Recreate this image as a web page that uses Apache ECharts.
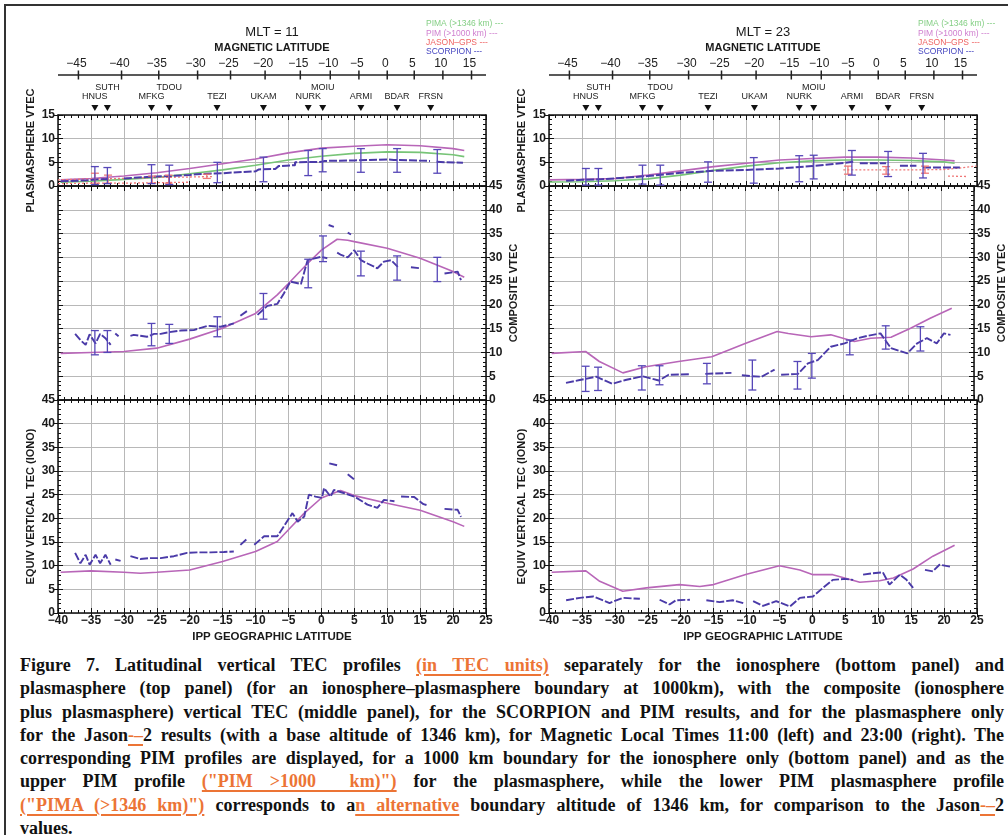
<!DOCTYPE html>
<html>
<head>
<meta charset="utf-8">
<title>Figure 7</title>
<script src="https://cdn.jsdelivr.net/npm/echarts@6/dist/echarts.min.js"></script>
<style>
  html, body { margin: 0; padding: 0; background: #fff; }
  #page { position: relative; width: 1008px; height: 835px; overflow: hidden; }
  #frame { position: absolute; left: 4px; top: 4px; width: 1030px; height: 880px; border: 2px solid #333; }
  #chart { position: absolute; left: 0; top: 0; width: 1008px; height: 650px; }
  #caption {
    position: absolute; left: 20px; top: 654px; width: 984px;
    font: bold 18px/23.3px "Liberation Serif", "Times New Roman", serif;
    color: #111;
  }
  #caption div { text-align: justify; text-align-last: justify; white-space: nowrap; }
  #caption div.last { text-align-last: left; }
  .o { color: #ec7435; text-decoration: underline; text-decoration-thickness: 2px; text-underline-offset: 3px; }
</style>
</head>
<body>
<div id="page">
  <div id="frame"></div>
  <div id="chart"></div>
  <div id="caption">
    <div>Figure 7. Latitudinal vertical TEC profiles <span class="o">(in TEC units)</span> separately for the ionosphere (bottom panel) and</div>
    <div>plasmasphere (top panel) (for an ionosphere–plasmasphere boundary at 1000km), with the composite (ionosphere</div>
    <div>plus plasmasphere) vertical TEC (middle panel), for the SCORPION and PIM results, and for the plasmasphere only</div>
    <div>for the Jason<span class="o">-–</span>2 results (with a base altitude of 1346 km), for Magnetic Local Times 11:00 (left) and 23:00 (right). The</div>
    <div>corresponding PIM profiles are displayed, for a 1000 km boundary for the ionosphere only (bottom panel) and as the</div>
    <div>upper PIM profile <span class="o">("PIM &gt;1000&nbsp; km)")</span> for the plasmasphere, while the lower PIM plasmasphere profile</div>
    <div><span class="o">("PIMA (&gt;1346 km)")</span> corresponds to a<span class="o">n alternative</span> boundary altitude of 1346 km, for comparison to the Jason<span class="o">-–</span>2</div>
    <div class="last">values.</div>
  </div>
</div>
<script>
// top axis: magnetic latitude ticks and where they fall in geographic latitude
const magLatTicks = [-45, -40, -35, -30, -25, -20, -15, -10, -5, 0, 5, 10, 15]
const magLatGeo = [-36.9, -30.35, -24.7, -18.8, -13.8, -8.55, -3.2, 1.35, 5.7, 10.0, 14.1, 18.45, 22.8]

const stationNames = ['HNUS', 'SUTH', 'MFKG', 'TDOU', 'TEZI', 'UKAM', 'NURK', 'MOIU', 'ARMI', 'BDAR', 'FRSN']
const stationGeo = [-34.4, -32.5, -25.8, -23.1, -15.85, -8.8, -2.0, 0.2, 6.0, 11.5, 16.6]

// ---- MLT = 11 (left) ----
const plasPimL = [[-39.6, 1.3], [-35, 1.6], [-30, 2.1], [-25, 2.8], [-20, 3.7], [-15, 4.7], [-10, 5.7], [-5, 7.0], [0, 8.0], [5, 8.4], [10, 8.7], [15, 8.5], [20, 7.9], [21.7, 7.5]]
const plasPimaL = [[-39.6, 0.8], [-35, 1.0], [-30, 1.4], [-25, 1.8], [-20, 2.6], [-15, 3.4], [-10, 4.4], [-5, 5.5], [0, 6.3], [5, 6.9], [10, 7.2], [15, 7.1], [20, 6.6], [21.7, 6.2]]
const plasScorpL = [[-39.6, 1.0], [-35.5, 1.2], [-34, 1.4], [-32, 1.5], null, [-30, 1.6], [-26.5, 1.9], [-25, 2.0], [-20, 2.3], [-19, 2.5], [-15, 2.7], [-14, 2.8], [-10, 3.1], [-9.5, 3.5], [-7, 3.6], [-6.5, 4.2], [-4, 4.4], [-4, 5.0], [0, 5.1], [0.5, 5.3], [5, 5.4], [10, 5.6], [11, 5.5], [16.5, 5.3], null, [17.5, 5.1], [21.5, 4.9]]
const plasScorpErrL = [[-34.4, 0.3, 4.1], [-32.5, 0.5, 3.9], [-25.8, 0.5, 4.5], [-23.1, 0.3, 4.4], [-15.8, 0.7, 5.0], [-8.8, 0.9, 6.1], [-2.0, 2.2, 7.5], [0.2, 3.0, 7.9], [6.0, 2.9, 7.9], [11.5, 2.9, 7.9], [17.6, 2.7, 7.7]]
const plasJasonHiL = [[-40, 1.3], [-35, 1.5], [-30, 1.6], [-25, 1.8], [-20, 1.9], [-16.5, 2.0]]
const plasJasonLoL = [[-40, 0.5], [-35, 0.6], [-30, 0.6], [-25, 0.7], [-20, 0.8]]
const plasJasonErrL = [[-34.4, 0.6, 2.7], [-32.4, 0.6, 2.3], [-25.7, 0.6, 2.1], [-23.2, 0.6, 2.3], [-17.4, 1.6, 2.5]]

const compPimL = [[-39.6, 9.8], [-35, 10.0], [-30, 10.2], [-25, 10.9], [-20, 12.8], [-15, 15.1], [-10, 18.2], [-6.7, 22.1], [-5, 24.5], [-2.1, 28.7], [0, 31.5], [2.4, 33.8], [4, 33.6], [5, 33.3], [10, 31.9], [15, 29.8], [20, 27.0], [21.7, 25.8]]
const compScorpL = [[-37.4, 13.9], [-36.6, 12.6], [-35.8, 11.6], [-35.2, 13.8], [-34.3, 11.9], [-33.6, 13.9], [-32.8, 13.0], [-32.0, 11.6], null,
  [-31.3, 14.0], [-30.8, 13.4], null,
  [-29.0, 13.5], [-28.5, 13.7], [-27.5, 13.5], [-26.5, 13.3], [-25.4, 13.9], [-24.4, 13.9], [-23.4, 14.2], [-21.4, 14.6], [-19.4, 14.7], [-17.3, 15.6], [-15.3, 15.4], [-13.3, 16.1], null,
  [-12.3, 17.7], [-11.2, 18.8], null,
  [-9.7, 17.9], [-8.2, 19.8], [-6.7, 20.2], [-5.7, 22.4], [-4.7, 24.9], [-3.1, 24.4], [-2.1, 29.4], [-0.1, 30.1], [0.9, 29.8], null,
  [1.1, 36.8], [1.9, 36.4], null,
  [4.0, 35.2], [4.5, 34.8], null,
  [2.4, 31.0], [3.0, 30.5], [4.0, 30.0], [5.0, 31.5], [6.0, 29.4], [7.0, 28.7], [8.5, 27.7], [9.5, 29.1], [10.6, 29.4], [11.6, 28.0], null,
  [13.6, 27.9], [15.1, 27.7], null,
  [18.7, 26.6], [20.7, 27.0], [21.2, 25.2]]
const compScorpErrL = [[-34.4, 9.5, 14.6], [-32.5, 10.0, 14.6], [-25.8, 11.4, 16.1], [-23.1, 11.9, 15.9], [-15.8, 13.3, 17.5], [-8.8, 17.0, 22.4], [-2.0, 23.6, 29.6], [0.25, 29.1, 34.5], [6.0, 26.1, 31.3], [11.5, 25.2, 30.3], [17.6, 24.9, 30.0]]

const ionoPimL = [[-39.6, 8.6], [-35, 8.9], [-30, 8.6], [-27.5, 8.4], [-25, 8.6], [-20, 9.1], [-15, 10.9], [-10, 13.0], [-6.7, 15.1], [-5, 17.6], [-2.6, 21.1], [0, 24.3], [2.9, 25.9], [5, 24.8], [10, 23.2], [15, 21.7], [20, 19.3], [21.7, 18.3]]
const ionoScorpL = [[-37.4, 12.7], [-36.6, 10.5], [-35.8, 12.3], [-35.2, 10.2], [-34.3, 12.3], [-33.6, 10.5], [-32.8, 12.3], [-32.0, 10.2], null,
  [-31.3, 11.3], [-30.5, 11.0], null,
  [-29.0, 12.0], [-27.5, 11.4], [-26.0, 11.6], [-24.4, 11.6], [-22.4, 12.0], [-20.4, 12.7], [-18.9, 12.8], [-16.8, 12.8], [-14.8, 12.9], [-13.3, 13.0], null,
  [-12.3, 14.4], [-11.2, 15.8], null,
  [-10.2, 14.4], [-8.7, 16.2], [-6.7, 16.2], [-5.7, 18.3], [-4.4, 21.1], [-3.6, 19.3], [-2.6, 20.4], [-1.9, 25.0], [-0.9, 24.6], [0.1, 24.3], [0.4, 26.4], [1.4, 24.6], [1.9, 26.0], [3.5, 25.3], [5.0, 24.6], [7.0, 22.9], [8.5, 22.2], [9.5, 23.9], [11.1, 23.6], null,
  [1.2, 31.6], [2.4, 31.2], null,
  [4.0, 29.3], [5.0, 28.2], null,
  [12.1, 24.6], [14.1, 24.5], [15.5, 23.0], [16.0, 22.8], null,
  [18.7, 22.0], [20.7, 21.8], [21.2, 20.3]]

// ---- MLT = 23 (right) ----
const plasPimR = [[-39.9, 1.3], [-35, 1.4], [-30, 1.6], [-25, 2.3], [-20, 3.2], [-15, 4.1], [-10, 4.8], [-5, 5.5], [0, 5.8], [5, 6.1], [10, 6.1], [15, 5.9], [20, 5.5], [21.6, 5.3]]
const plasPimaR = [[-39.9, 0.85], [-35, 0.9], [-30, 1.1], [-25, 1.5], [-20, 2.3], [-15, 3.3], [-10, 4.2], [-5, 4.9], [0, 5.3], [5, 5.5], [10, 5.5], [15, 5.4], [20, 5.1], [21.6, 4.8]]
const plasScorpR = [[-37.4, 1.1], [-35, 1.3], [-32.3, 1.4], [-30, 1.6], [-25, 2.1], [-20, 2.8], [-15, 3.2], [-10, 3.4], [-5, 3.7], [0, 4.2], [5, 4.9], [6.2, 5.1], null,
  [7.2, 4.8], [11.2, 4.8], null,
  [13.3, 4.3], [15.8, 4.3], null,
  [16.8, 3.9], [22.4, 3.9]]
const plasScorpErrR = [[-34.4, 0.2, 3.7], [-32.5, 0.2, 3.7], [-25.8, 0.4, 4.4], [-23.1, 0.2, 4.4], [-15.85, 0.8, 5.1], [-8.9, 0.6, 6.0], [-2.0, 0.9, 6.4], [0.2, 1.5, 6.5], [6.0, 2.3, 7.5], [11.5, 2.0, 7.3], [16.8, 1.7, 6.9]]
const plasJasonHiR = [[4.7, 3.4], [10, 3.4], [15, 3.4], [20.4, 3.5], [24.9, 4.2]]
const plasJasonLoR = [[20.6, 2.1], [23.4, 2.0]]
const plasJasonErrR = [[5.4, 2.5, 4.2], [11.2, 2.5, 4.1], [17.1, 2.7, 4.2]]

const compPimR = [[-39.6, 9.8], [-34.4, 10.2], [-32.3, 8.1], [-28.7, 5.7], [-25.2, 7.0], [-20.2, 8.1], [-15.1, 9.1], [-10, 11.9], [-5.1, 14.4], [-3.4, 14.0], [0.1, 13.3], [3.1, 13.7], [6.7, 12.3], [9.2, 13.0], [12.3, 13.2], [15.3, 15.1], [18.3, 17.2], [21.6, 19.3]]
const compScorpR = [[-37.4, 3.6], [-35.3, 4.2], [-32.8, 4.9], [-30.3, 3.4], [-28.3, 4.2], [-25.7, 5.0], [-23.2, 4.1], [-21.7, 5.3], [-18.6, 5.4], null,
  [-16.1, 5.5], [-12.1, 5.7], null,
  [-10.5, 5.2], [-9.0, 5.0], [-7.5, 4.9], [-5.5, 6.4], null,
  [-4.5, 5.3], [-1.9, 5.5], [-0.4, 7.7], [1.1, 8.4], [3.1, 11.2], [5.2, 11.9], [7.2, 13.0], [8.7, 13.5], [10.7, 14.0], [12.3, 10.9], [14.8, 9.8], [16.3, 11.9], [17.8, 13.0], [19.3, 11.9], [20.4, 14.0], [21.4, 13.7]]
const compScorpErrR = [[-34.4, 1.8, 7.1], [-32.5, 2.0, 6.9], [-25.8, 2.1, 7.2], [-23.1, 3.2, 7.2], [-15.85, 3.4, 7.7], [-8.9, 2.1, 8.4], [-2.0, 2.3, 8.1], [0.2, 4.6, 9.8], [6.0, 9.5, 12.6], [11.5, 10.7, 15.6], [16.8, 10.3, 15.4]]

const ionoPimR = [[-39.6, 8.6], [-34.4, 8.9], [-32.3, 6.7], [-28.8, 4.6], [-25.2, 5.3], [-20.2, 6.0], [-17.1, 5.6], [-15, 6.0], [-10, 8.2], [-5, 10.0], [-1.9, 9.1], [0.1, 8.1], [3.1, 8.1], [4.9, 7.4], [7.2, 6.5], [10.2, 6.8], [12.3, 7.4], [15.3, 9.3], [18.3, 12.0], [21.6, 14.3]]
const ionoScorpR = [[-37.4, 2.7], [-35.3, 3.2], [-33.3, 3.5], [-30.8, 2.1], [-28.8, 3.2], [-26.2, 3.0], null,
  [-23.2, 2.8], [-21.7, 1.8], [-20.7, 2.7], [-18.6, 2.8], null,
  [-16.1, 2.7], [-14.1, 2.3], [-12.1, 2.7], [-10.5, 2.1], null,
  [-9.0, 2.5], [-7.5, 1.5], [-5.5, 2.5], [-3.4, 1.4], [-1.9, 3.2], [0.1, 3.5], [1.6, 5.3], [3.1, 7.0], [4.9, 7.2], [6.2, 7.0], null,
  [7.7, 8.1], [9.2, 8.4], [10.7, 8.6], [11.7, 6.0], [13.3, 8.1], [14.3, 7.0], [15.3, 5.3], null,
  [17.1, 9.1], [18.3, 8.8], [19.3, 10.2], [20.9, 9.8]]

const C_PIM = '#b866b8'
const C_PIMA = '#77c477'
const C_JASON = '#f07878'
const C_SCORP = '#4a3aa8'
const C_GRID = '#b8b8b8'
const FONT = 'Liberation Sans'

const panelLeft = [58, 549]
const panelWidth = 428
const rows = [
  { top: 115, height: 71, max: 15, name: 'PLASMASPHERE VTEC' },
  { top: 186, height: 214, max: 45, name: 'COMPOSITE VTEC' },
  { top: 400, height: 213, max: 45, name: 'EQUIV VERTICAL TEC (IONO)' },
]

const minus = v => String(v).replace('-', '\u2212')

const grids = [], xAxes = [], yAxes = [], xIdx = [], yIdx = []
panelLeft.forEach(left => {
  rows.forEach((row, r) => {
    const g = grids.length
    grids.push({ left, top: row.top, width: panelWidth, height: row.height })
    const frame = { show: true, onZero: false, lineStyle: { color: '#111', width: 1.5 } }
    xIdx[g] = xAxes.length
    xAxes.push({
      gridIndex: g, type: 'value', position: 'bottom', min: -40, max: 25, interval: 5,
      axisLine: frame, axisTick: { show: true, inside: true, length: 5, lineStyle: { color: '#111' } },
      minorTick: { show: true, splitNumber: 5, length: 3, lineStyle: { color: '#111' } },
      splitLine: { show: true, lineStyle: { color: C_GRID, width: 1 } }, axisLabel: { show: false },
    })
    xAxes.push({
      gridIndex: g, type: 'value', position: 'top', min: -40, max: 25, interval: 5,
      axisLine: frame, axisTick: { show: true, inside: true, length: 5, lineStyle: { color: '#111' } },
      minorTick: { show: true, splitNumber: 5, length: 3, lineStyle: { color: '#111' } },
      splitLine: { show: false }, axisLabel: { show: false },
    })
    if (r === 2) {
      xAxes.push({
        gridIndex: g, type: 'value', position: 'bottom', min: -40, max: 25, interval: 5,
        axisLine: { show: false, onZero: false }, axisTick: { show: true, inside: false, length: 4, lineStyle: { color: '#111' } },
        splitLine: { show: false },
        axisLabel: { show: true, margin: 2, formatter: minus, color: '#1a1a1a', fontFamily: FONT, fontWeight: 'bold', fontSize: 12 },
        name: 'IPP GEOGRAPHIC LATITUDE', nameLocation: 'middle', nameGap: 18,
        nameTextStyle: { color: '#1a1a1a', fontFamily: FONT, fontWeight: 'bold', fontSize: 11.5 },
      })
    }
    yIdx[g] = yAxes.length
    ;['left', 'right'].forEach(pos => {
      yAxes.push({
        gridIndex: g, type: 'value', position: pos, min: 0, max: row.max, interval: 5,
        axisLine: frame, axisTick: { show: true, inside: true, length: 5, lineStyle: { color: '#111' } },
        minorTick: { show: true, splitNumber: 5, length: 3, lineStyle: { color: '#111' } },
        splitLine: { show: pos === 'left', lineStyle: { color: C_GRID, width: 1 } }, axisLabel: { show: false },
      })
    })
    const side = r === 1 ? 'right' : 'left'
    yAxes.push({
      gridIndex: g, type: 'value', position: side, min: 0, max: row.max, interval: 5,
      axisLine: { show: false, onZero: false }, axisTick: { show: true, inside: false, length: 4, lineStyle: { color: '#111' } },
      splitLine: { show: false },
      axisLabel: { show: true, margin: 3, color: '#1a1a1a', fontFamily: FONT, fontWeight: 'bold', fontSize: 12 },
      name: row.name, nameLocation: 'middle', nameRotate: 90, nameGap: 22,
      nameTextStyle: { color: '#1a1a1a', fontFamily: FONT, fontWeight: 'bold', fontSize: 11 },
    })
  })
})

const series = []

function splitSegs(arr) {
  const out = [[]]
  arr.forEach(p => { if (p === null) out.push([]); else out[out.length - 1].push(p) })
  return out.filter(s => s.length > 1)
}

function addLine(g, data, color, width, type, z) {
  splitSegs(data).forEach(seg => {
    series.push({
      type: 'line', xAxisIndex: xIdx[g], yAxisIndex: yIdx[g], data: seg,
      symbol: 'none', silent: true, z: z || 3,
      lineStyle: { color, width, type: type || 'solid' },
    })
  })
}

function addBars(g, data, color) {
  series.push({
    type: 'custom', xAxisIndex: xIdx[g], yAxisIndex: yIdx[g], data, silent: true, z: 6,
    encode: { x: 0, y: [1, 2] },
    renderItem: (params, api) => {
      const a = api.coord([api.value(0), api.value(1)])
      const b = api.coord([api.value(0), api.value(2)])
      const st = { stroke: color, lineWidth: 1.3 }
      return {
        type: 'group', children: [
          { type: 'line', shape: { x1: a[0], y1: a[1], x2: b[0], y2: b[1] }, style: st },
          { type: 'line', shape: { x1: a[0] - 4, y1: a[1], x2: a[0] + 4, y2: a[1] }, style: st },
          { type: 'line', shape: { x1: b[0] - 4, y1: b[1], x2: b[0] + 4, y2: b[1] }, style: st },
        ],
      }
    },
  })
}

function textEl(x, y, text, font, fill, align) {
  return {
    type: 'text', x, y,
    style: { text, font, fill, align: align || 'center', textAlign: align || 'center', verticalAlign: 'middle', textVerticalAlign: 'middle' },
  }
}

// magnetic latitude axis and station markers above each top panel
const stationRaised = []
stationGeo.forEach((g, i) => { stationRaised[i] = i > 0 && !stationRaised[i - 1] && g - stationGeo[i - 1] < 3 })

function addTopDecor(g) {
  series.push({
    type: 'custom', xAxisIndex: xIdx[g], yAxisIndex: yIdx[g], clip: false, silent: true,
    data: magLatGeo.map((v, i) => [v, magLatTicks[i]]),
    renderItem: (params, api) => {
      const l = api.coord([-40, 15]), r = api.coord([25, 15])
      const y = l[1] - 40
      const x = api.coord([api.value(0), 15])[0]
      const st = { stroke: '#222', lineWidth: 1.5 }
      const children = [
        { type: 'line', shape: { x1: x, y1: y - 4.5, x2: x, y2: y + 4.5 }, style: st },
        textEl(x - 2, y - 11, minus(api.value(1)), '12px "' + FONT + '"', '#222'),
      ]
      if (params.dataIndex === 0) children.push({ type: 'line', shape: { x1: l[0], y1: y, x2: r[0], y2: y }, style: st })
      return { type: 'group', children }
    },
  })
  series.push({
    type: 'custom', xAxisIndex: xIdx[g], yAxisIndex: yIdx[g], clip: false, silent: true,
    data: stationGeo.map((v, i) => [v, i]),
    renderItem: (params, api) => {
      const i = api.value(1)
      const p = api.coord([api.value(0), 15])
      const ty = p[1] - 7
      const ly = stationRaised[i] ? p[1] - 27 : p[1] - 18
      return {
        type: 'group', children: [
          { type: 'polygon', shape: { points: [[p[0] - 3.5, ty - 3], [p[0] + 3.5, ty - 3], [p[0], ty + 3]] }, style: { fill: '#111' } },
          textEl(p[0], ly, stationNames[i], '9px "' + FONT + '"', '#222'),
        ],
      }
    },
  })
}

// left panel (grids 0,1,2), right panel (grids 3,4,5)
addLine(0, plasPimL, C_PIM, 1.6)
addLine(0, plasPimaL, C_PIMA, 1.6)
addLine(0, plasJasonHiL, C_JASON, 1.3, [2, 2])
addLine(0, plasJasonLoL, C_JASON, 1.3, [2, 2])
addLine(0, plasScorpL, C_SCORP, 2, [8, 2], 4)
addBars(0, plasJasonErrL, C_JASON)
addBars(0, plasScorpErrL, '#5647b8')
addLine(1, compPimL, C_PIM, 1.6)
addLine(1, compScorpL, C_SCORP, 1.9, [8, 2], 4)
addBars(1, compScorpErrL, '#5647b8')
addLine(2, ionoPimL, C_PIM, 1.6)
addLine(2, ionoScorpL, C_SCORP, 1.9, [8, 2], 4)

addLine(3, plasPimR, C_PIM, 1.6)
addLine(3, plasPimaR, C_PIMA, 1.6)
addLine(3, plasJasonHiR, C_JASON, 1.3, [2, 2])
addLine(3, plasJasonLoR, C_JASON, 1.3, [2, 2])
addLine(3, plasScorpR, C_SCORP, 2, [8, 2], 4)
addBars(3, plasJasonErrR, C_JASON)
addBars(3, plasScorpErrR, '#5647b8')
addLine(4, compPimR, C_PIM, 1.6)
addLine(4, compScorpR, C_SCORP, 1.9, [8, 2], 4)
addBars(4, compScorpErrR, '#5647b8')
addLine(5, ionoPimR, C_PIM, 1.6)
addLine(5, ionoScorpR, C_SCORP, 1.9, [8, 2], 4)

addTopDecor(0)
addTopDecor(3)

// titles and legends
const graphic = []
const legendItems = [
  ['PIMA (>1346 km) ---', '#86cf86'],
  ['PIM (>1000 km) ---', '#cf7fcf'],
  ['JASON\u2013GPS ---', '#ef6464'],
  ['SCORPION ---', '#4646c0'],
]
;[['MLT = 11', 272, 426], ['MLT = 23', 763, 918]].forEach(([t, cx, lx]) => {
  graphic.push(textEl(cx, 32, t, '13px "' + FONT + '"', '#1a1a1a'))
  graphic.push(textEl(cx, 47.5, 'MAGNETIC LATITUDE', 'bold 11px "' + FONT + '"', '#1a1a1a'))
  legendItems.forEach(([txt, col], i) => {
    graphic.push(textEl(lx, 24 + i * 9.3, txt, '8.5px "' + FONT + '"', col, 'left'))
  })
})

const chart = echarts.init(document.getElementById('chart'))
chart.setOption({
  animation: false,
  grid: grids,
  xAxis: xAxes,
  yAxis: yAxes,
  series,
  graphic,
})
</script>
</body>
</html>
